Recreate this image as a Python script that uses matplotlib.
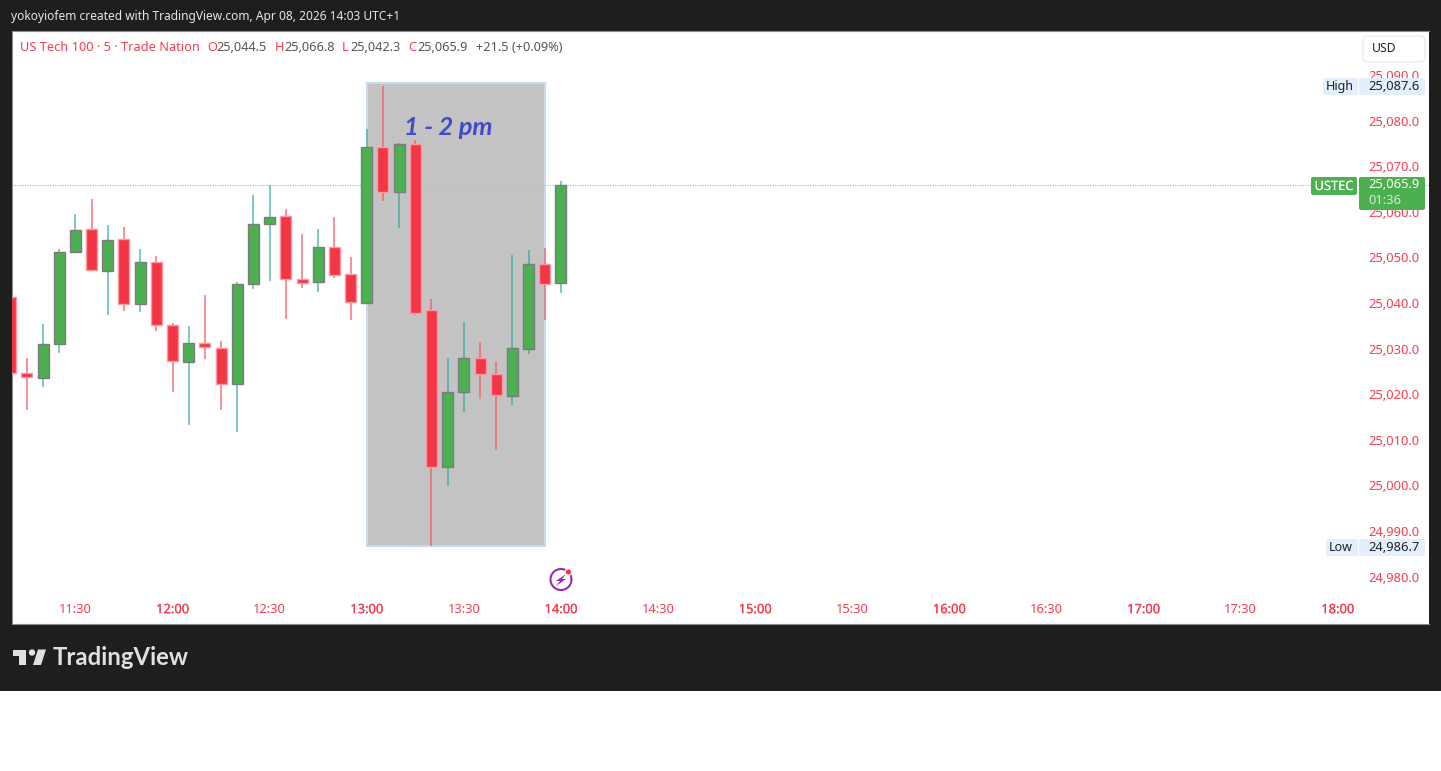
"""Redraw of a TradingView 5 minute US Tech 100 screenshot."""

import matplotlib

matplotlib.use("Agg")
import matplotlib.patheffects as pe
import matplotlib.pyplot as plt
from matplotlib.patches import Circle, FancyBboxPatch, Polygon, Rectangle

plt.rcParams["font.family"] = ["Noto Sans", "DejaVu Sans"]

bar_times = [
    "11:10", "11:15", "11:20", "11:25", "11:30", "11:35", "11:40", "11:45", "11:50",
    "11:55", "12:00", "12:05", "12:10", "12:15", "12:20", "12:25", "12:30", "12:35",
    "12:40", "12:45", "12:50", "12:55", "13:00", "13:05", "13:10", "13:15", "13:20",
    "13:25", "13:30", "13:35", "13:40", "13:45", "13:50", "13:55", "14:00",
]
opens = [
    25041.3, 25024.7, 25023.6, 25031.0, 25051.2, 25056.2, 25047.0, 25054.1, 25039.8,
    25049.0, 25035.2, 25027.1, 25031.2, 25030.2, 25022.3, 25044.2, 25057.3, 25059.1,
    25045.3, 25044.6, 25052.3, 25046.4, 25040.0, 25074.2, 25064.4, 25074.9, 25038.5,
    25004.1, 25020.5, 25028.0, 25024.5, 25019.6, 25029.9, 25048.6, 25044.5,
]
highs = [
    25041.3, 25028.0, 25035.4, 25051.9, 25059.5, 25062.8, 25057.1, 25056.7, 25051.9,
    25050.3, 25035.6, 25035.0, 25041.8, 25031.7, 25044.6, 25063.7, 25065.9, 25060.6,
    25055.2, 25056.2, 25058.9, 25050.1, 25078.2, 25087.6, 25075.1, 25075.8, 25040.9,
    25028.0, 25035.9, 25031.5, 25027.1, 25050.5, 25051.6, 25052.1, 25066.8,
]
lows = [
    25024.7, 25016.6, 25021.6, 25029.1, 25051.0, 25047.3, 25037.4, 25038.3, 25038.0,
    25033.9, 25020.5, 25013.3, 25027.7, 25016.6, 25011.7, 25043.1, 25044.8, 25036.5,
    25043.3, 25042.4, 25045.5, 25036.3, 25040.0, 25062.4, 25056.5, 25037.4, 24986.7,
    24999.9, 25016.1, 25019.0, 25007.8, 25017.7, 25028.8, 25036.3, 25042.3,
]
closes = [
    25024.7, 25023.8, 25031.0, 25051.2, 25056.0, 25047.3, 25053.8, 25039.8, 25049.0,
    25035.2, 25027.3, 25031.2, 25030.4, 25022.3, 25044.2, 25057.3, 25058.9, 25045.3,
    25044.4, 25052.3, 25046.2, 25040.2, 25074.2, 25064.4, 25074.9, 25037.8, 25004.1,
    25020.5, 25028.0, 25024.5, 25019.8, 25030.2, 25048.6, 25044.2, 25065.9,
]
time_ticks = [
    "11:30", "12:00", "12:30", "13:00", "13:30", "14:00", "14:30", "15:00", "15:30",
    "16:00", "16:30", "17:00", "17:30", "18:00",
]
price_ticks = [
    24980, 24990, 25000, 25010, 25020, 25030, 25040, 25050, 25060, 25070, 25080, 25090,
]
session_start, session_end = "13:00", "13:55"
session_high, session_low = 25088.3, 24986.7
last_price = 25065.9

W, H = 1441, 771
DARK = "#1e1e1e"
RED = "#f23645"
TEXT_RED = "#f73d50"
GREEN = "#4caf50"


def minutes(label):
    hour, minute = label.split(":")
    return int(hour) * 60 + int(minute)


def axes_rect(left, top, right, bottom):
    return [left / W, 1 - bottom / H, (right - left) / W, (bottom - top) / H]


def thicken(text, color, width=0.12):
    # the sans family here has no heavier cut, so stroke the glyphs a little
    text.set_path_effects([pe.withStroke(linewidth=width, foreground=color)])


fig = plt.figure(figsize=(W / 100, H / 100), dpi=100, facecolor="white")

back = fig.add_axes([0, 0, 1, 1], zorder=0)
back.set_xlim(0, W)
back.set_ylim(H, 0)
back.axis("off")
back.add_patch(Rectangle((0, 0), W, 691, color=DARK, lw=0))

ax = fig.add_axes(axes_rect(12, 31, 1429, 624), zorder=1, facecolor="white")
ax.set_xlim(minutes("11:30") - 19.6, minutes("11:30") + 418.2)
ax.set_ylim(24969.6, 25099.67)
for spine in ax.spines.values():
    spine.set_color("#8c8c8c")
    spine.set_linewidth(0.8)
ax.spines["right"].set_visible(False)

# session box sits under the candles
ax.add_patch(Rectangle(
    (minutes(session_start), session_low),
    minutes(session_end) - minutes(session_start),
    session_high - session_low,
    facecolor="#c3c3c3", edgecolor="#cad8f0", lw=1.5, zorder=1,
))
ax.axhline(last_price, color="#9ad89e", lw=0.9, ls=(0, (1, 1)), zorder=2)

x = [minutes(t) for t in bar_times]
for xi, o, h, l, c in zip(x, opens, highs, lows, closes):
    up = c >= o
    ax.vlines(xi, l, h, color="#26a69a" if up else "#f7525f",
              lw=1.2, alpha=0.7 if up else 0.75, zorder=3)
    ax.bar(xi, abs(c - o), bottom=min(o, c), width=3.4,
           color=GREEN if up else RED,
           edgecolor="#7c7c7c" if up else "#fb98a2", lw=1, zorder=4)

ax.text(minutes("13:10") + 1.6, 25078.4, "1 - 2 pm", color="#3f4bc9", fontsize=18.3,
        family="Lato", fontweight="bold", fontstyle="italic",
        ha="left", va="center", zorder=5)

ax.set_xticks([minutes(t) for t in time_ticks], time_ticks)
ax.set_yticks(price_ticks, [f"{p:,.1f}" for p in price_ticks])
ax.yaxis.tick_right()
ax.tick_params(axis="x", length=0, pad=-15, labelsize=9.3, labelcolor=TEXT_RED)
ax.tick_params(axis="y", length=0, pad=-44, labelsize=9.3, labelcolor=TEXT_RED)
for label in ax.get_xticklabels():
    if label.get_text().endswith(":00"):
        thicken(label, TEXT_RED)

over = fig.add_axes([0, 0, 1, 1], zorder=2)
over.set_xlim(0, W)
over.set_ylim(H, 0)
over.axis("off")


def tag(left, top, right, bottom, color):
    over.add_patch(FancyBboxPatch(
        (left + 2, top + 2), right - left - 4, bottom - top - 4,
        boxstyle="round,pad=2,rounding_size=2", facecolor=color, edgecolor="none",
    ))


over.text(11, 16.5, "yokoyiofem created with TradingView.com, Apr 08, 2026 14:03 UTC+1",
          color="#e6e6e6", fontsize=8.6, va="center")

legend_parts = [
    (20, "US Tech 100 · 5 · Trade Nation", TEXT_RED),
    (207, "O", TEXT_RED), (216, "25,044.5", "#555555"),
    (275, "H", TEXT_RED), (284, "25,066.8", "#555555"),
    (342, "L", TEXT_RED), (350, "25,042.3", "#555555"),
    (408, "C", TEXT_RED), (417, "25,065.9", "#555555"),
    (476, "+21.5 (+0.09%)", "#555555"),
]
for left, text, color in legend_parts:
    over.text(left, 47.5, text, color=color, fontsize=9.2, va="center")

over.add_patch(FancyBboxPatch((1366, 39), 56, 20, boxstyle="round,pad=3,rounding_size=5",
                              facecolor="white", edgecolor="#ececec", lw=1))
over.text(1384, 49, "USD", color="#222222", fontsize=8.8, ha="center", va="center")

# high and low labels
tag(1323, 78, 1358, 95, "#e3effd")
tag(1359, 78, 1425, 95, "#e3effd")
over.text(1340, 86.5, "High", color="#222222", fontsize=9, ha="center", va="center")
over.text(1394, 86.5, "25,087.6", color="#222222", fontsize=9.3, ha="center", va="center")
tag(1326, 539, 1358, 556, "#e3effd")
tag(1359, 539, 1425, 556, "#e3effd")
over.text(1341, 547.5, "Low", color="#222222", fontsize=9, ha="center", va="center")
over.text(1394, 547.5, "24,986.7", color="#222222", fontsize=9.3, ha="center", va="center")

# last price tag
tag(1311, 177, 1357, 195, GREEN)
tag(1359, 177, 1425, 210, GREEN)
ustec = over.text(1334, 186.5, "USTEC", color="white", fontsize=9.2, ha="center", va="center")
thicken(ustec, "white")
over.text(1394, 185, "25,065.9", color="white", fontsize=9.3, ha="center", va="center")
over.text(1385, 200, "01:36", color="#d5ecd6", fontsize=9.3, ha="center", va="center")

# lightning marker
over.add_patch(Circle((561, 579.5), 10.5, facecolor="white", edgecolor="#9c27b0", lw=1.5))
over.add_patch(Polygon([(566, 574), (556, 581), (560, 581), (556, 586), (566, 579), (562, 579)],
                       closed=True, facecolor="#9c27b0", edgecolor="none"))
over.add_patch(Circle((568.5, 572), 3.2, facecolor=RED, edgecolor="white", lw=0.8))

# footer logo
logo = "#e0e0e0"
over.add_patch(Polygon([(13, 649.5), (26, 649.5), (26, 665), (19, 665), (19, 655.5), (13, 655.5)],
                       closed=True, facecolor=logo, edgecolor="none"))
over.add_patch(Circle((32, 652.5), 3.2, facecolor=logo, edgecolor="none"))
over.add_patch(Polygon([(38, 649.5), (46, 649.5), (41, 665), (33, 665)],
                       closed=True, facecolor=logo, edgecolor="none"))
over.text(53, 657.5, "TradingView", color=logo, fontsize=17.2, family="Lato", fontweight="bold",
          ha="left", va="center")

fig.savefig("out.png", dpi=100)
plt.close(fig)
